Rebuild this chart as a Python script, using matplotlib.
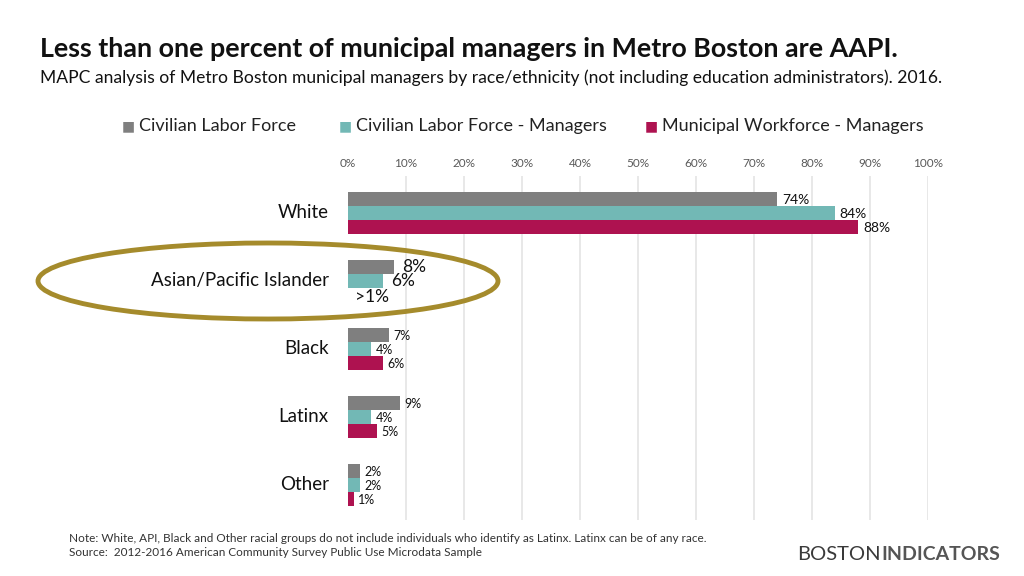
import numpy as np
import matplotlib.pyplot as plt
from matplotlib.patches import Ellipse

plt.rcParams['font.family'] = ['Lato', 'DejaVu Sans']

categories = ['White', 'Asian/Pacific Islander', 'Black', 'Latinx', 'Other']
labor_force = [74, 8, 7, 9, 2]
labor_managers = [84, 6, 4, 4, 2]
municipal_managers = [88, 0, 6, 5, 1]
muni_labels = ['88%', '>1%', '6%', '5%', '1%']
series_names = ['Civilian Labor Force', 'Civilian Labor Force - Managers',
                'Municipal Workforce - Managers']
ticks = list(range(0, 101, 10))

colors = ['#7f7f7f', '#72b8b5', '#ae1250']

W, H = 1024, 576
fig = plt.figure(figsize=(W / 100, H / 100), dpi=100)

# axes placed in pixel coordinates
x0, x1 = 348, 928
y_top, y_bot = 176, 520
ax = fig.add_axes([x0 / W, 1 - y_bot / H, (x1 - x0) / W, (y_bot - y_top) / H])

ypos = np.arange(len(categories))
bh = 0.205
series = [labor_force, labor_managers, municipal_managers]
for k, (vals, c) in enumerate(zip(series, colors)):
    ax.barh(ypos + (k - 1) * bh, vals, height=bh, color=c, zorder=3)

ax.set_xlim(0, 100)
ax.set_ylim(4.515, -0.544)
ax.set_xticks(ticks)
ax.set_xticklabels([f'{t}%' for t in ticks], fontsize=8.5, color='#595959')
ax.xaxis.tick_top()
ax.tick_params(axis='x', length=0, pad=5)
ax.set_yticks([])
for t in ticks[1:]:
    ax.axvline(t, color='#e8e8e8', lw=1.4, zorder=1)
for s in ax.spines.values():
    s.set_visible(False)

# category labels
for i, cat in enumerate(categories):
    ax.text(-3.3, i, cat, ha='right', va='center', fontsize=13.5, color='#111111')

# value labels
for i in range(len(categories)):
    if i == 0:
        fs = 10
    elif i == 1:
        fs = 12.5
    else:
        fs = 9
    for k, vals in enumerate(series):
        v = vals[i]
        lab = muni_labels[i] if k == 2 else f'{v}%'
        yy = ypos[i] + (k - 1) * bh
        if i == 1 and k == 2:
            ax.text(1.2, yy + 0.03, lab, ha='left', va='center', fontsize=fs, color='#111111')
        elif i == 1:
            ax.text(v + 1.4, yy + 0.0, lab, ha='left', va='center', fontsize=fs, color='#111111')
        else:
            ax.text(v + 0.8, yy + 0.01, lab, ha='left', va='center', fontsize=fs, color='#111111')

# highlight ellipse
ell = Ellipse((268 / W, 1 - 281 / H), 460 / W, 76 / H, transform=fig.transFigure,
              fill=False, edgecolor='#a58b2c', lw=3.5, zorder=10)
fig.patches.append(ell)

# legend
leg_x = [122, 339, 645]
for lx, name, c in zip(leg_x, series_names, colors):
    fig.text(lx / W, 1 - 126 / H, '■', color=c, fontsize=10, va='center', ha='left',
             family='DejaVu Sans')
    fig.text((lx + 17) / W, 1 - 126 / H, name, fontsize=13, va='center', ha='left',
             color='#222222')

fig.text(40 / W, 1 - 49 / H, 'Less than one percent of municipal managers in Metro Boston are AAPI.',
         fontsize=19.4, fontweight='bold', va='center', ha='left', color='#111111')
fig.text(40 / W, 1 - 78 / H,
         'MAPC analysis of Metro Boston municipal managers by race/ethnicity (not including education administrators). 2016.',
         fontsize=12.6, va='center', ha='left', color='#111111')

fig.text(69 / W, 1 - 538 / H,
         'Note: White, API, Black and Other racial groups do not include individuals who identify as Latinx. Latinx can be of any race.',
         fontsize=8.5, va='center', ha='left', color='#333333')
fig.text(69 / W, 1 - 553 / H, 'Source:  2012-2016 American Community Survey Public Use Microdata Sample',
         fontsize=8.5, va='center', ha='left', color='#333333')

fig.text(797 / W, 1 - 554 / H, 'BOSTON', fontsize=14.5, va='center', ha='left', color='#3a3a3a')
fig.text(881 / W, 1 - 554 / H, 'INDICATORS', fontsize=14, va='center', ha='left', color='#555555',
         fontweight='bold')

fig.savefig('out.png', dpi=100)
